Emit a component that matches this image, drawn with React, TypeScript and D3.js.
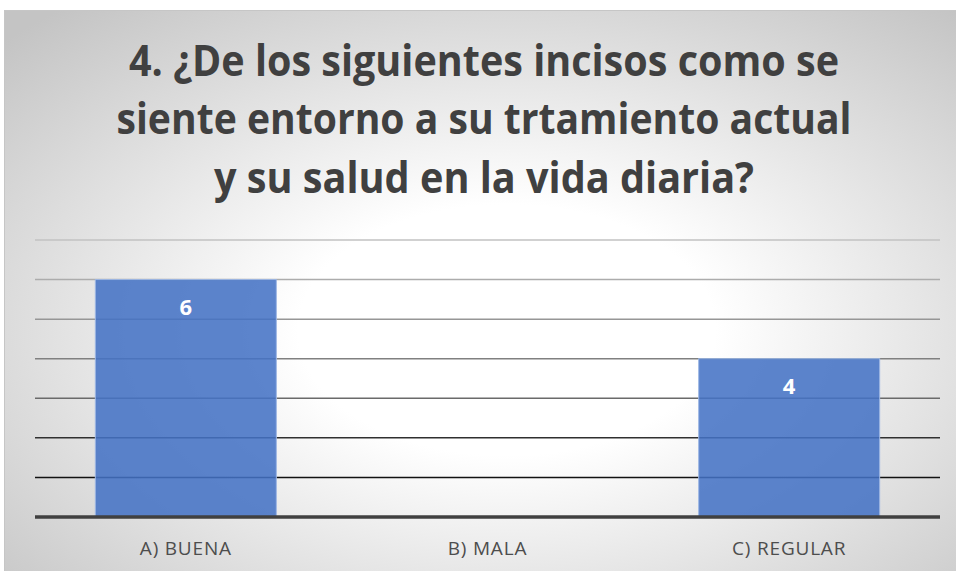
import React from "react";
import * as d3 from "d3";

const categories: string[] = ["A) BUENA", "B) MALA", "C) REGULAR"];
const values: number[] = [6, 0, 4];
const yTicks: number[] = [0, 1, 2, 3, 4, 5, 6, 7];
const titleLines: string[] = [
  "4. ¿De los siguientes incisos como se",
  "siente entorno a su trtamiento actual",
  "y su salud en la vida diaria?",
];

const W = 956;
const H = 571;
const plot = { left: 35, right: 940, top: 240, bottom: 517 };

export default function App() {
  const x = d3
    .scaleBand<string>()
    .domain(categories)
    .range([plot.left, plot.right])
    .paddingInner(0.4)
    .paddingOuter(0.2);
  const y = d3.scaleLinear().domain([0, 7]).range([plot.bottom, plot.top]);

  const gridColor = d3
    .scaleLinear<string>()
    .domain([7, 3, 2, 1])
    .range(["#c2c2c2", "#6a6a6a", "#303030", "#121212"])
    .clamp(true);

  const titleLens = [710, 735, 540];
  const titleBase = [76, 134, 193];

  return (
    <svg
      width={W}
      height={H}
      style={{ position: "absolute", left: 0, top: 0, display: "block" }}
    >
      <defs>
        <radialGradient id="bg" cx="0.52" cy="0.55" r="0.72" fx="0.52" fy="0.55">
          <stop offset="0" stopColor="#ffffff" />
          <stop offset="0.3" stopColor="#ffffff" />
          <stop offset="1" stopColor="#c4c4c4" />
        </radialGradient>
      </defs>
      <rect x={0} y={0} width={W} height={H} fill="#ffffff" />
      <rect
        x={4.5}
        y={10.5}
        width={W + 10}
        height={H + 10}
        fill="url(#bg)"
        stroke="#c6c6c6"
        strokeWidth={1}
      />
      {titleLines.map((t, i) => (
        <text
          key={i}
          x={484}
          y={titleBase[i]}
          textAnchor="middle"
          fontFamily="'Open Sans', sans-serif"
          fontWeight={700}
          fontSize={43}
          fill="#404040"
          textLength={titleLens[i]}
          lengthAdjust="spacingAndGlyphs"
        >
          {t}
        </text>
      ))}
      {yTicks
        .filter((t) => t > 0)
        .map((t) => (
          <line
            key={t}
            x1={plot.left}
            x2={plot.right}
            y1={y(t)}
            y2={y(t)}
            stroke={gridColor(t)}
            strokeWidth={1.5}
          />
        ))}
      {categories.map((c, i) =>
        values[i] > 0 ? (
          <rect
            key={c}
            x={x(c)!}
            y={y(values[i])}
            width={x.bandwidth()}
            height={y(0) - y(values[i])}
            fill="#4472c4"
            fillOpacity={0.87}
            stroke="#9db7e4"
            strokeWidth={1}
          />
        ) : null
      )}
      <line
        x1={plot.left}
        x2={plot.right}
        y1={y(0)}
        y2={y(0)}
        stroke="#404040"
        strokeWidth={3.3}
      />
      {categories.map((c, i) =>
        values[i] > 0 ? (
          <text
            key={c}
            x={x(c)! + x.bandwidth() / 2}
            y={y(values[i]) + 35}
            textAnchor="middle"
            fontFamily="'Open Sans', sans-serif"
            fontWeight={700}
            fontSize={22}
            fill="#ffffff"
          >
            {values[i]}
          </text>
        ) : null
      )}
      {categories.map((c) => (
        <text
          key={c}
          x={x(c)! + x.bandwidth() / 2}
          y={555}
          textAnchor="middle"
          fontFamily="'Open Sans', sans-serif"
          fontSize={19}
          letterSpacing={0.8}
          fill="#4d4d4d"
        >
          {c}
        </text>
      ))}
    </svg>
  );
}
